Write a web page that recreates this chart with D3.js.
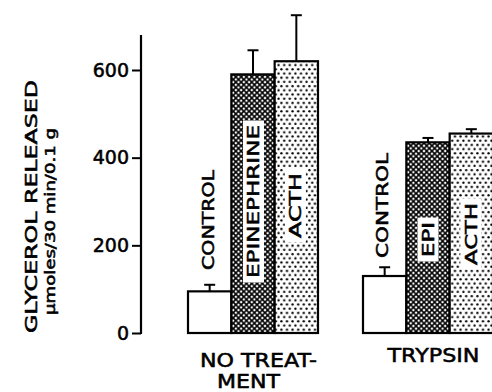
<!DOCTYPE html>
<html>
<head>
<meta charset="utf-8">
<script src="https://cdn.jsdelivr.net/npm/d3@7"></script>
<style>
  html, body { margin: 0; padding: 0; background: #fff; }
  svg { display: block; }
  text { font-family: "DejaVu Sans", sans-serif; font-weight: normal; fill: #000; stroke: #000; stroke-width: 0.55px; }
</style>
</head>
<body>
<svg id="chart" width="492" height="392"></svg>
<script>
// ---- data ----
const groups = ["NO TREATMENT", "TRYPSIN"];
const conditions = ["CONTROL", "EPINEPHRINE", "ACTH"];
const noTreatmentValues = [95, 590, 620];
const noTreatmentErrTop = [110, 645, 725];
const trypsinValues = [130, 435, 455];
const trypsinErrTop = [150, 445, 465];
const noTreatmentLabels = ["CONTROL", "EPINEPHRINE", "ACTH"];
const trypsinLabels = ["CONTROL", "EPI", "ACTH"];
const yTicks = [0, 200, 400, 600];
const yTitle = "GLYCEROL RELEASED";
const yUnits = "\u03BCmoles/30 min/0.1 g";

// ---- layout (not data) ----
const W = 492, H = 392;
const svg = d3.select("#chart");
svg.append("rect").attr("width", W).attr("height", H).attr("fill", "#fff");

const y = d3.scaleLinear().domain([0, 600]).range([333, 70]);
const axisX = 141;

const xGroup = d3.scaleBand().domain(groups).range([188, 493]).paddingInner(45 / 175).paddingOuter(0);
const xCond = d3.scaleBand().domain(conditions).range([0, xGroup.bandwidth()]).padding(0);

// patterns
const defs = svg.append("defs");
const hs = 5.3;
const hatch = defs.append("pattern").attr("id", "hatch").attr("patternUnits", "userSpaceOnUse")
  .attr("width", hs).attr("height", hs);
hatch.append("rect").attr("width", hs).attr("height", hs).attr("fill", "#fff");
hatch.append("path")
  .attr("d", `M0,0L${hs},${hs}M${hs},0L0,${hs}M-1,1L1,-1M${hs-1},${hs+1}L${hs+1},${hs-1}M-1,${hs-1}L1,${hs+1}M${hs-1},-1L${hs+1},1`)
  .attr("stroke", "#000").attr("stroke-width", 1.6);

const dw = 5.6, dh = 8.4;
const dots = defs.append("pattern").attr("id", "dots").attr("patternUnits", "userSpaceOnUse")
  .attr("width", dw).attr("height", dh);
dots.append("rect").attr("width", dw).attr("height", dh).attr("fill", "#fff");
dots.append("circle").attr("cx", dw / 4).attr("cy", dh / 4).attr("r", 1.15).attr("fill", "#000");
dots.append("circle").attr("cx", dw * 3 / 4).attr("cy", dh * 3 / 4).attr("r", 1.15).attr("fill", "#000");

const fills = { "CONTROL": "#fff", "EPINEPHRINE": "url(#hatch)", "ACTH": "url(#dots)" };

// build rows
const rows = [];
groups.forEach((g, gi) => {
  const vals = gi === 0 ? noTreatmentValues : trypsinValues;
  const errs = gi === 0 ? noTreatmentErrTop : trypsinErrTop;
  const labs = gi === 0 ? noTreatmentLabels : trypsinLabels;
  conditions.forEach((c, ci) => {
    rows.push({ group: g, cond: c, value: vals[ci], err: errs[ci], label: labs[ci], gi, ci });
  });
});

const barX = d => xGroup(d.group) + xCond(d.cond);
const barCX = d => barX(d) + xCond.bandwidth() / 2;

const bars = svg.append("g");
bars.selectAll("rect.bar").data(rows).join("rect")
  .attr("class", "bar")
  .attr("x", d => barX(d))
  .attr("y", d => y(d.value))
  .attr("width", xCond.bandwidth())
  .attr("height", d => y(0) - y(d.value))
  .attr("fill", d => fills[d.cond])
  .attr("stroke", "#000").attr("stroke-width", 2.2);

// error bars
const eb = svg.append("g").attr("stroke", "#000").attr("stroke-width", 2);
eb.selectAll("line.whisker").data(rows).join("line")
  .attr("x1", d => barCX(d)).attr("x2", d => barCX(d))
  .attr("y1", d => y(d.value)).attr("y2", d => y(d.err));
eb.selectAll("line.cap").data(rows).join("line")
  .attr("x1", d => barCX(d) - 5.5).attr("x2", d => barCX(d) + 5.5)
  .attr("y1", d => y(d.err)).attr("y2", d => y(d.err));

// in-bar / above-bar labels (annotation layout: bottom y, text length, boxed)
const labelLayout = [
  { bottom: 270, len: 100, box: false, dx: -1.5 },
  { bottom: 278, len: 153, box: true, dx: 0.5 },
  { bottom: 238, len: 65, box: true, dx: -1 },
  { bottom: 258, len: 105, box: false, dx: -3 },
  { bottom: 257, len: 35, box: true, dx: 0 },
  { bottom: 265, len: 62, box: true, dx: -0.5 }
];
const labelFont = 16.5;
const capH = labelFont * 0.729;
const lg = svg.append("g");
rows.forEach((d, i) => {
  const L = labelLayout[i];
  const cx = barCX(d) + L.dx;
  if (L.box) {
    lg.append("rect")
      .attr("x", cx - capH / 2 - 4.5)
      .attr("y", L.bottom - L.len - 4.5)
      .attr("width", capH + 9)
      .attr("height", L.len + 9)
      .attr("fill", "#fff");
  }
  lg.append("text")
    .attr("transform", `translate(${cx},${L.bottom}) rotate(-90)`)
    .attr("dy", "0.36em")
    .attr("font-size", labelFont)
    .attr("textLength", L.len)
    .attr("lengthAdjust", "spacingAndGlyphs")
    .text(d.label);
});

// y axis
const axis = d3.axisLeft(y).tickValues(yTicks).tickSize(9).tickPadding(3).tickFormat(d3.format("d"));
const ag = svg.append("g").attr("transform", `translate(${axisX},0)`).call(axis);
ag.select(".domain").remove();
ag.selectAll(".tick line").attr("stroke", "#000").attr("stroke-width", 2);
ag.selectAll(".tick text").attr("font-size", 19).attr("font-family", "DejaVu Sans").attr("fill", "#000");
svg.append("line").attr("x1", axisX).attr("x2", axisX)
  .attr("y1", y(0) + 1).attr("y2", y(680))
  .attr("stroke", "#000").attr("stroke-width", 2.2);

// y titles
svg.append("text")
  .attr("transform", `translate(37,${206.5}) rotate(-90)`)
  .attr("text-anchor", "middle")
  .attr("font-size", 16.5)
  .attr("textLength", 253).attr("lengthAdjust", "spacingAndGlyphs")
  .text(yTitle);
svg.append("text")
  .attr("transform", `translate(55,${221.5}) rotate(-90)`)
  .attr("text-anchor", "middle")
  .attr("font-size", 14.5)
  .attr("textLength", 187).attr("lengthAdjust", "spacingAndGlyphs")
  .text(yUnits);

// group labels
const gl = svg.append("g");
gl.append("text").attr("x", 258.5).attr("y", 367).attr("text-anchor", "middle")
  .attr("font-size", 20).attr("textLength", 117).attr("lengthAdjust", "spacingAndGlyphs").text("NO TREAT-");
gl.append("text").attr("x", 248.5).attr("y", 388).attr("text-anchor", "middle")
  .attr("font-size", 19).attr("textLength", 63).attr("lengthAdjust", "spacingAndGlyphs").text("MENT");
gl.append("text").attr("x", 433.5).attr("y", 362).attr("text-anchor", "middle")
  .attr("font-size", 20).attr("textLength", 92).attr("lengthAdjust", "spacingAndGlyphs").text(groups[1]);
</script>
</body>
</html>
